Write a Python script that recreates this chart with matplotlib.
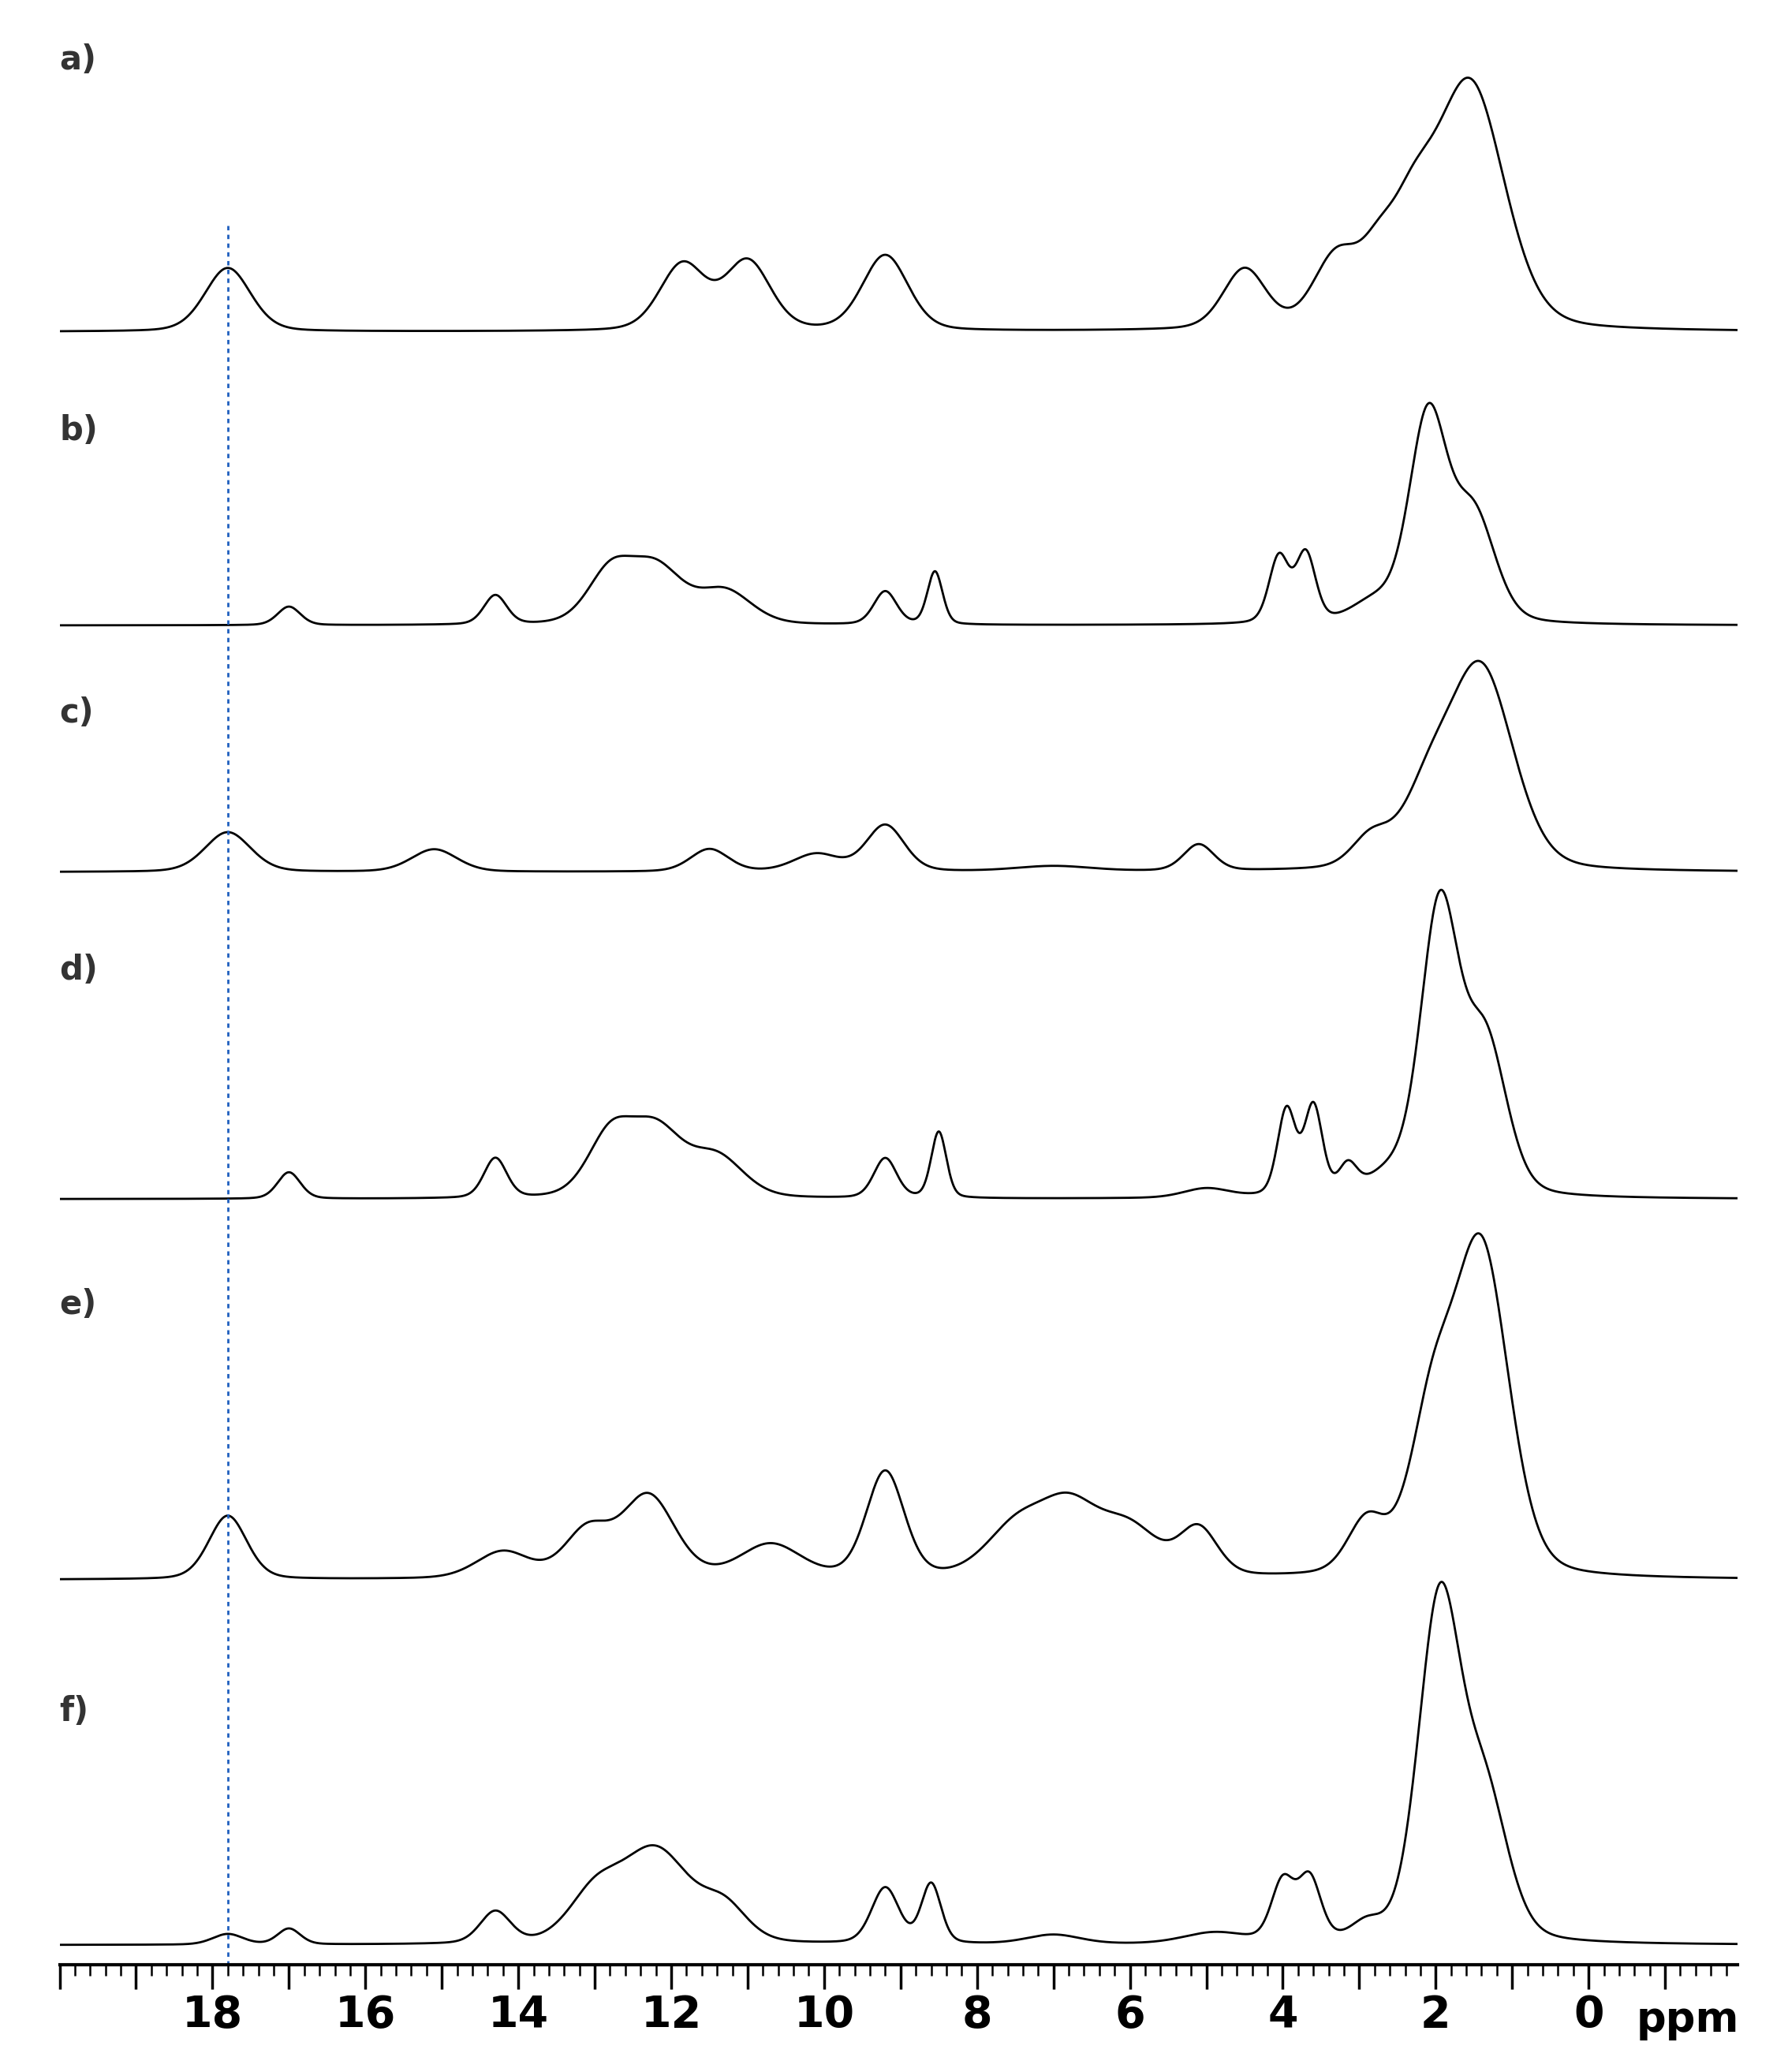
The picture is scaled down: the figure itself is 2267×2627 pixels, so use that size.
import numpy as np
import matplotlib
matplotlib.use("Agg")
import matplotlib.pyplot as plt
from matplotlib.ticker import MultipleLocator

labels = ["a)", "b)", "c)", "d)", "e)", "f)"]
# baselines (px from top, reference display scale 1350x1564)
baselines = [250, 472, 658, 905, 1192, 1468]
label_y = [45, 325, 538, 732, 985, 1292]
# peaks: (position ppm, height px, sigma ppm)
peaks_a = [(17.8, 48, 0.3), (11.85, 50, 0.3), (11.0, 52, 0.3), (9.2, 57, 0.3),
           (4.5, 45, 0.28), (3.3, 52, 0.3), (2.75, 40, 0.25), (2.3, 65, 0.3), (1.55, 185, 0.45)]
peaks_b = [(17.0, 14, 0.15), (14.3, 22, 0.15), (12.8, 38, 0.3), (12.2, 42, 0.35), (11.3, 25, 0.35),
           (9.2, 25, 0.15), (8.55, 40, 0.1), (4.05, 50, 0.13), (3.7, 52, 0.13), (2.8, 15, 0.3),
           (2.1, 155, 0.25), (1.5, 80, 0.28)]
peaks_c = [(17.8, 30, 0.3), (15.1, 17, 0.3), (11.5, 17, 0.25), (10.1, 13, 0.3), (9.2, 35, 0.25),
           (7.0, 4, 0.5), (5.1, 20, 0.2), (2.85, 22, 0.25), (2.1, 50, 0.35), (1.4, 150, 0.42)]
peaks_d = [(17.0, 20, 0.15), (14.3, 30, 0.15), (12.8, 45, 0.3), (12.2, 50, 0.35), (11.4, 30, 0.35),
           (9.2, 30, 0.15), (8.5, 50, 0.1), (5.0, 7, 0.3), (3.95, 65, 0.12), (3.6, 67, 0.12), (3.15, 20, 0.12),
           (2.6, 15, 0.3), (1.95, 215, 0.25), (1.35, 115, 0.28)]
peaks_e = [(17.8, 48, 0.25), (14.2, 20, 0.35), (13.1, 35, 0.3), (12.3, 62, 0.35), (10.7, 25, 0.4),
           (9.2, 80, 0.25), (7.5, 35, 0.4), (6.8, 50, 0.4), (6.0, 35, 0.4), (5.1, 35, 0.25),
           (2.9, 40, 0.25), (2.05, 110, 0.3), (1.4, 245, 0.36)]
peaks_f = [(17.8, 8, 0.2), (17.0, 12, 0.15), (14.3, 24, 0.2), (13.0, 35, 0.35), (12.2, 70, 0.45), (11.3, 25, 0.3),
           (9.2, 42, 0.18), (8.6, 45, 0.13), (7.0, 7, 0.35), (4.9, 8, 0.4), (4.0, 45, 0.15), (3.65, 47, 0.15),
           (2.9, 12, 0.2), (1.95, 255, 0.28), (1.35, 105, 0.3)]
all_peaks = [peaks_a, peaks_b, peaks_c, peaks_d, peaks_e, peaks_f]
dashed_ppm = 17.8

W, H = 1350, 1564
fig = plt.figure(figsize=(22.67, 26.27), dpi=100)
axis_y = 1483
ax = fig.add_axes([45 / W, (H - axis_y) / H, (1312 - 45) / W, axis_y / H])
ax.set_xlim(20.0, -1.95)
ax.set_ylim(-axis_y, 0)
x = np.linspace(20.0, -1.95, 4000)
eta = 0.25  # lorentzian fraction
for lab, base, ly, pk in zip(labels, baselines, label_y, all_peaks):
    y = np.zeros_like(x)
    for p, h, s in pk:
        g = np.exp(-0.5 * ((x - p) / s) ** 2)
        l = 1 / (1 + ((x - p) / (1.18 * s)) ** 2)
        y += h * ((1 - eta) * g + eta * l)
    y -= y.min()
    ax.plot(x, -(base - y), color="black", lw=2.0)
    fig.text(45 / W, 1 - ly / H, lab, fontsize=30, fontweight="bold", color="#333333", va="center")
ax.plot([dashed_ppm, dashed_ppm], [-170, -1483], color="#1f5fbf", ls=(0, (2, 2)), lw=2)

for s in ["top", "left", "right"]:
    ax.spines[s].set_visible(False)
ax.spines["bottom"].set_linewidth(3)
ax.set_yticks([])
ax.xaxis.set_major_locator(MultipleLocator(1))
ax.xaxis.set_minor_locator(MultipleLocator(0.2))
ax.tick_params(axis="x", which="major", length=22, width=2.5, direction="out", labelsize=0)
ax.tick_params(axis="x", which="minor", length=10, width=1.8, direction="out")
ax.set_xticklabels([])
for v in range(0, 19, 2):
    ax.text(v, -1483 - 38, str(v), ha="center", va="center", fontsize=40, fontweight="bold",
            family=["Liberation Sans Narrow", "DejaVu Sans"])
ax.text(-1.3, -1483 - 42, "ppm", ha="center", va="center", fontsize=38, fontweight="bold")
fig.savefig("out.png", dpi=100)
